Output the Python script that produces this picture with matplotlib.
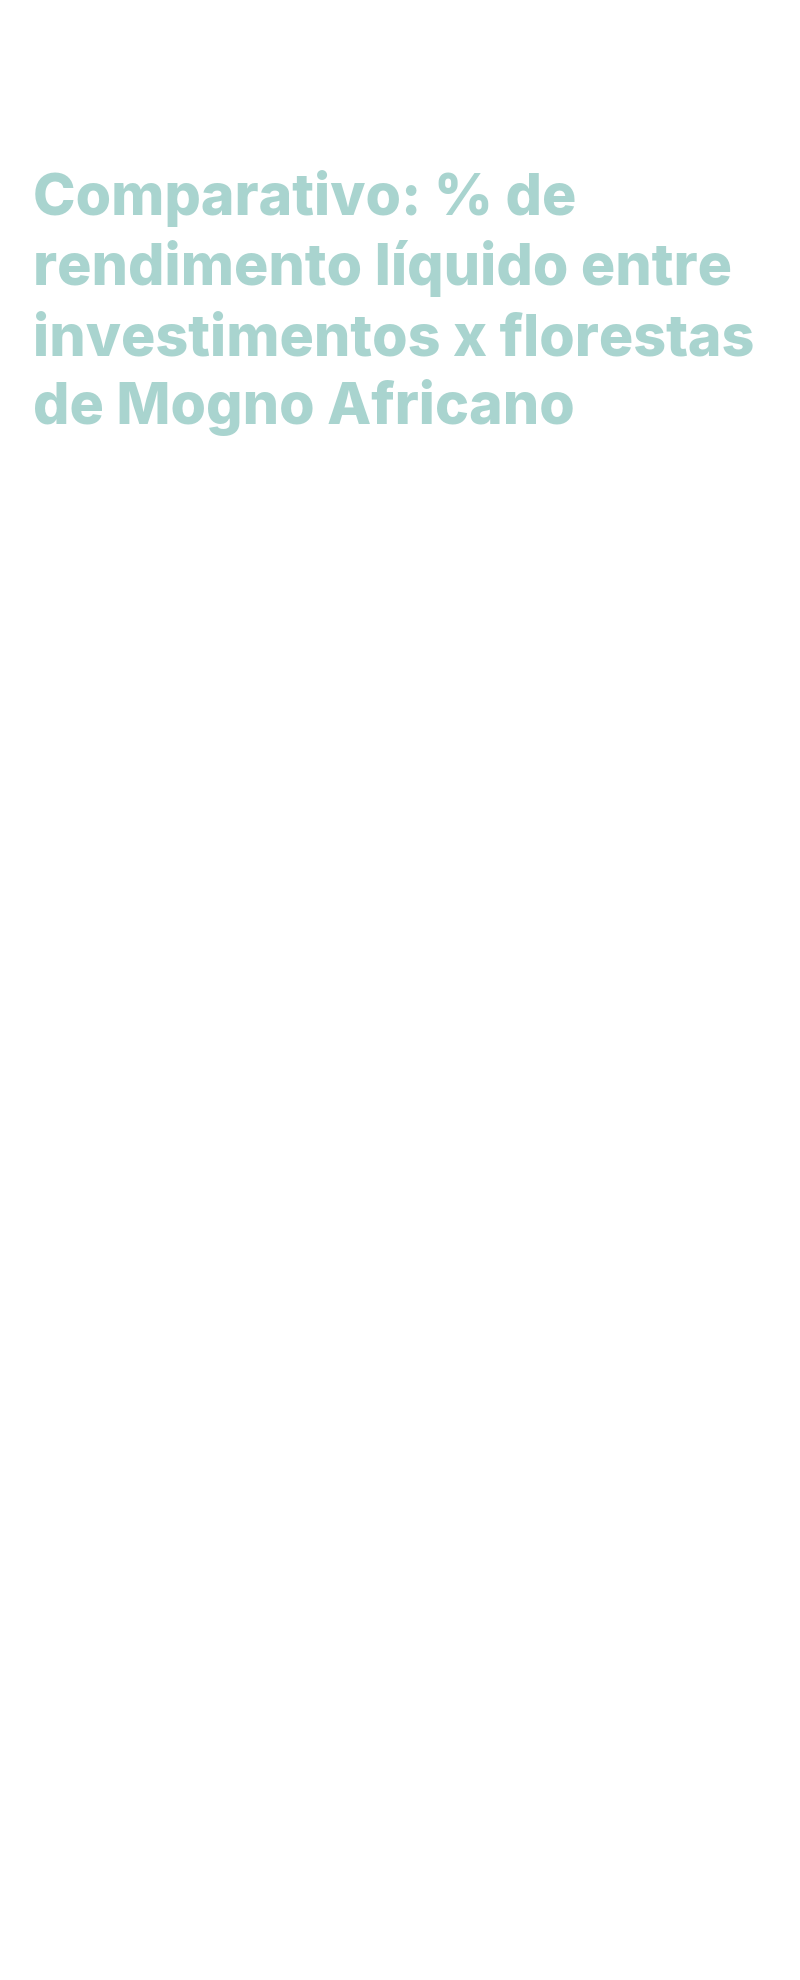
import matplotlib
matplotlib.use("Agg")
import matplotlib.pyplot as plt

title_lines = [
    "Comparativo: % de",
    "rendimento líquido entre",
    "investimentos x florestas",
    "de Mogno Africano",
]
baselines_px = [215, 285, 355, 424]
title_color = "#a9d4cf"

W, H = 800, 1980
fig = plt.figure(figsize=(W / 100, H / 100), dpi=100)
fig.patch.set_facecolor("white")

font = ["Inter", "DejaVu Sans"]

# size the text so the second line spans roughly the reference width
renderer = fig.canvas.get_renderer()
probe = fig.text(0, 0, title_lines[1], fontsize=40, fontweight=800,
                 family=font)
w = probe.get_window_extent(renderer).width
probe.remove()
size = 40 * 700 / w

for line, by in zip(title_lines, baselines_px):
    fig.text(33 / W, 1 - by / H, line, fontsize=size, fontweight=800,
             family=font, color=title_color,
             ha="left", va="baseline")

fig.savefig("out.png", dpi=100, facecolor="white")
